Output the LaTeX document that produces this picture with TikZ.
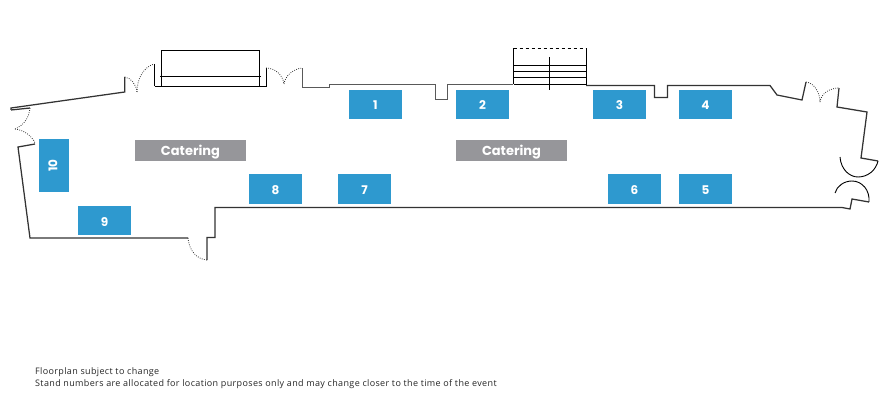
\documentclass[tikz,border=0pt]{standalone}
\usepackage{fontspec}
\setmainfont{Poppins}
\newfontfamily\notefont[LetterSpace=3.95]{Open Sans}
\definecolor{standblue}{HTML}{2E99CF}
\definecolor{cateringgrey}{HTML}{96969A}
\definecolor{wallc}{HTML}{333333}
\tikzset{
  standbox/.style={fill=standblue,text=white,font=\bfseries\fontsize{12}{12}\selectfont,inner sep=0pt,minimum width=53pt,minimum height=29.5pt,anchor=center},
  standlabel/.style={text=white,font=\bfseries\fontsize{12}{12}\selectfont,inner sep=0pt},
  cateringbox/.style={fill=cateringgrey,inner sep=0pt,minimum width=111pt,minimum height=21pt},
  cateringlabel/.style={text=white,font=\bfseries\fontsize{13}{13}\selectfont,inner sep=0pt},
  wall/.style={draw=wallc,line width=1.25pt,line join=miter},
  upper wall/.style={draw=black!65,line width=1.25pt,line join=miter},
  thin wall/.style={draw=black,line width=1pt},
  doorswing/.style={draw=black!80,line width=0.8pt,dash pattern=on 0.8pt off 1.4pt},
  openarc/.style={draw=black,line width=0.9pt},
  note/.style={font=\notefont\fontsize{9}{11}\selectfont,text=black!85,anchor=west,inner sep=0pt}
}
\begin{document}
\begin{tikzpicture}[x=1pt,y=-1pt]
\useasboundingbox (0,0) rectangle (885,401);
% walls
\draw[wall] (11,110) -- (11,108) -- (124.7,92) -- (124.7,77);
\draw[wall] (11,110) -- (30,108);
\draw[wall] (35,144) -- (18,147) -- (30,238) -- (188,238);
\draw[wall] (207,260) -- (207,237.5) -- (215,237.5) -- (215,207.5) -- (842,207.5) -- (850,209) -- (852,199) -- (869,202);
\draw[wall] (878,161) -- (861,158) -- (867,112) -- (837,107) -- (839,88);
\draw[wall] (806,82) -- (802,100) -- (777,95) -- (770,85.5) -- (667.5,85.5) -- (667.5,97.5) -- (654.5,97.5) -- (654.5,85.5) -- (586,85.5);
\draw[upper wall] (513,84.5) -- (447.5,84.5) -- (447.5,99.5) -- (435.5,99.5) -- (435.5,84.5) -- (329.5,84.5) -- (329.5,87.5) -- (302.5,87.5) -- (302.5,68);
\draw[thin wall] (154.5,64) -- (154.5,86.5);
\draw[thin wall] (266.5,68) -- (266.5,86.5);
% alcove and stairs
\draw[thin wall] (154.5,86.5) -- (266.5,86.5);
\draw[thin wall] (161.5,86.5) -- (161.5,50.5) -- (259.5,50.5) -- (259.5,86.5);
\draw[thin wall] (160,76.5) -- (261,76.5);
\draw[thin wall] (513.5,84) -- (513.5,48.5);
\draw[thin wall] (586.5,84) -- (586.5,48.5);
\draw[thin wall,dashed] (513.5,48.5) -- (586.5,48.5);
\draw[thin wall] (513.5,65.5) -- (587,65.5);
\draw[thin wall] (513.5,71.5) -- (587,71.5);
\draw[thin wall] (513.5,77.5) -- (587,77.5);
\draw[thin wall] (513.5,84.5) -- (587,84.5);
\draw[thin wall] (549.5,57) -- (549.5,90);
% door swings
\draw[doorswing] (30,108) .. controls (29,118) and (24,125) .. (15,129);
\draw[doorswing] (15,129) .. controls (24,130) and (32,136) .. (35,143);
\draw[doorswing] (188,238) .. controls (189,250) and (196,259) .. (207,260);
\draw[doorswing] (124.7,77) .. controls (131,78) and (136,84) .. (137,92);
\draw[doorswing] (137,92) .. controls (137,78) and (144,67) .. (154,64);
\draw[doorswing] (266,68) .. controls (275,68) and (283,75) .. (284,84);
\draw[doorswing] (284,84) .. controls (285,76) and (293,69) .. (302,68);
\draw[doorswing] (806,82) .. controls (814,83) and (820,92) .. (820,102);
\draw[doorswing] (820,102) .. controls (821,94) and (829,88) .. (839,88);
% double doors
\draw[openarc] (840,157) .. controls (841,170) and (850,177) .. (858,177) .. controls (868,177) and (876,170) .. (878,161);
\draw[openarc] (835,193) .. controls (837,186) and (844,181) .. (852,181) .. controls (862,181) and (870,190) .. (869,202);
% catering
\node[cateringbox] (cat1) at (190.5,150.5) {};
\node[cateringlabel] (cat1t) at (190.5,152) {Catering};
\node[cateringbox] (cat2) at (511.5,150.5) {};
\node[cateringlabel] (cat2t) at (511.5,152) {Catering};
% stands
\node[standbox] (s1) at (375.5,104.5) {};
\node[standbox] (s2) at (482.5,104.5) {};
\node[standbox] (s3) at (619.5,104.5) {};
\node[standbox] (s4) at (705.5,104.5) {};
\node[standbox] (s5) at (705.5,189) {};
\node[standbox] (s6) at (634.5,189) {};
\node[standbox] (s7) at (364.5,189) {};
\node[standbox] (s8) at (275.5,189) {};
\node[standbox] (s9) at (104.5,220.5) {};
\node[standbox,minimum width=30pt,minimum height=53pt] (s10) at (54,165.5) {};
\node[standlabel] (l1) at (375.5,105.5) {1};
\node[standlabel] (l2) at (482.5,105.5) {2};
\node[standlabel] (l3) at (619.5,105.5) {3};
\node[standlabel] (l4) at (705.5,105.5) {4};
\node[standlabel] (l5) at (705.5,190) {5};
\node[standlabel] (l6) at (634.5,190) {6};
\node[standlabel] (l7) at (364.5,190) {7};
\node[standlabel] (l8) at (275.5,190) {8};
\node[standlabel] (l9) at (104.5,222) {9};
\node[standlabel,rotate=90] (l10) at (53,165.5) {10};
% notes
\node[note] (n1) at (35,372.5) {Floorplan subject to change};
\node[note] (n2) at (35,384.5) {Stand numbers are allocated for location purposes only and may change closer to the time of the event};
\end{tikzpicture}
\end{document}
